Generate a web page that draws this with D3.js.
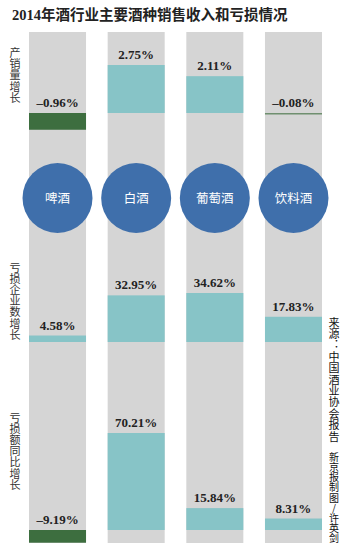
<!DOCTYPE html>
<html>
<head>
<meta charset="utf-8">
<script src="https://cdn.jsdelivr.net/npm/d3@7"></script>
<style>
  body { margin: 0; background: #fff; }
  svg { display: block; }
</style>
</head>
<body>
<div id="chart"></div>
<script>
// 数据
const title = "2014年酒行业主要酒种销售收入和亏损情况";
const categories = ["啤酒", "白酒", "葡萄酒", "饮料酒"];
const metricNames = ["产销量增长", "亏损企业数增长", "亏损额同比增长"];
const salesGrowth = [-0.96, 2.75, 2.11, -0.08];
const lossFirmGrowth = [4.58, 32.95, 34.62, 17.83];
const lossAmountGrowth = [-9.19, 70.21, 15.84, 8.31];
const sourceNote = "来源：中国酒业协会报告";
const creditNote = "新京报制图/许英剑";

const W = 353, H = 549;
const svg = d3.select("#chart").append("svg")
    .attr("width", W)
    .attr("height", H);

const x = d3.scaleBand()
    .domain(categories)
    .range([29, 322])
    .paddingInner(0.275);

// 灰色背景柱
svg.selectAll(".col")
    .data(categories)
    .join("rect")
    .attr("class", "col")
    .attr("x", d => x(d))
    .attr("y", 32)
    .attr("width", x.bandwidth())
    .attr("height", 543 - 32)
    .attr("fill", "#d5d5d5");

// 三个面板，各自的纵向比例尺
const panels = [
    { values: salesGrowth, y: d3.scaleLinear().domain([0, 2.75]).range([113, 65]) },
    { values: lossFirmGrowth, y: d3.scaleLinear().domain([0, 34.62]).range([342, 293]) },
    { values: lossAmountGrowth, y: d3.scaleLinear().domain([0, 70.21]).range([530, 433]) }
];

const fmt = v => (v < 0 ? "–" : "") + Math.abs(v).toFixed(2) + "%";

panels.forEach((p, i) => {
    const g = svg.append("g").attr("class", "panel-" + i);
    const rows = categories.map((c, j) => ({ cat: c, value: p.values[j] }));

    g.selectAll("rect")
        .data(rows)
        .join("rect")
        .attr("x", d => x(d.cat))
        .attr("width", x.bandwidth())
        .attr("y", d => Math.min(p.y(d.value), p.y(0)))
        .attr("height", d => Math.max(Math.abs(p.y(d.value) - p.y(0)), 1.5))
        .attr("fill", d => d.value < 0 ? (Math.abs(p.y(d.value) - p.y(0)) < 3 ? "#6f8f6f" : "#3d6e3f") : "#87c4c7");

    g.selectAll("text")
        .data(rows)
        .join("text")
        .attr("x", d => x(d.cat) + x.bandwidth() / 2)
        .attr("y", d => Math.min(p.y(d.value), p.y(0)) - 6)
        .attr("text-anchor", "middle")
        .attr("font-family", "'Liberation Serif', 'DejaVu Serif', serif")
        .attr("font-weight", "bold")
        .attr("font-size", 13)
        .attr("fill", "#222")
        .text(d => fmt(d.value));
});

// 酒种圆标签
const circles = svg.append("g");
circles.selectAll("circle")
    .data(categories)
    .join("circle")
    .attr("cx", d => x(d) + x.bandwidth() / 2)
    .attr("cy", 198)
    .attr("r", 35)
    .attr("fill", "#3f6fab");
circles.selectAll("text")
    .data(categories)
    .join("text")
    .attr("x", d => x(d) + x.bandwidth() / 2)
    .attr("y", 202.5)
    .attr("text-anchor", "middle")
    .attr("font-family", "'Noto Sans CJK SC', sans-serif")
    .attr("font-size", 12.5)
    .attr("fill", "#fff")
    .text(d => d);

// 标题
svg.append("text")
    .attr("x", 12)
    .attr("y", 20)
    .attr("font-family", "'Liberation Serif', 'Noto Sans CJK SC', serif")
    .attr("font-weight", "bold")
    .attr("font-size", 14.5)
    .attr("fill", "#222")
    .text(title);

// 竖排文字
function verticalText(str, cx, top, size, spacing, color) {
    svg.append("text")
        .attr("x", cx)
        .attr("y", top)
        .style("writing-mode", "vertical-rl")
        .style("text-orientation", "upright")
        .attr("letter-spacing", spacing)
        .attr("font-family", "'Noto Sans CJK SC', sans-serif")
        .attr("font-size", size)
        .attr("fill", color)
        .text(str);
}

verticalText(metricNames[0], 15, 47, 11, 0.4, "#333");
verticalText(metricNames[1], 15, 262, 11, 0.2, "#333");
verticalText(metricNames[2], 15, 412, 11, 0.2, "#333");
verticalText(sourceNote, 334, 317, 11, 0.4, "#111");
verticalText(creditNote, 334, 452, 10, 0.2, "#111");
</script>
</body>
</html>
